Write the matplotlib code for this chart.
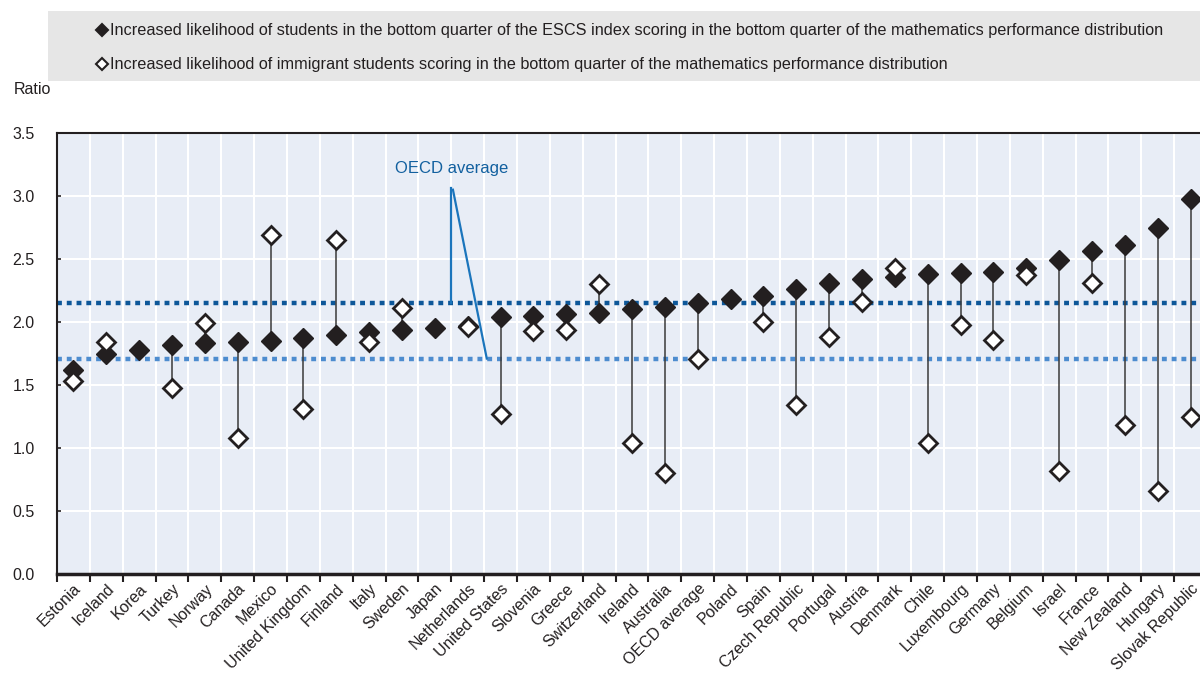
import numpy as np
import matplotlib
matplotlib.use("Agg")
import matplotlib.pyplot as plt
from matplotlib.lines import Line2D
from matplotlib.patches import Rectangle
from matplotlib.transforms import ScaledTranslation

plt.rcParams['font.family'] = ['Liberation Sans', 'DejaVu Sans']

countries = ['Estonia', 'Iceland', 'Korea', 'Turkey', 'Norway', 'Canada', 'Mexico',
             'United Kingdom', 'Finland', 'Italy', 'Sweden', 'Japan', 'Netherlands',
             'United States', 'Slovenia', 'Greece', 'Switzerland', 'Ireland', 'Australia',
             'OECD average', 'Poland', 'Spain', 'Czech Republic', 'Portugal', 'Austria',
             'Denmark', 'Chile', 'Luxembourg', 'Germany', 'Belgium', 'Israel', 'France',
             'New Zealand', 'Hungary', 'Slovak Republic']

escs = [1.62, 1.75, 1.78, 1.82, 1.83, 1.84, 1.85, 1.87, 1.90, 1.92, 1.94, 1.95, 1.97,
        2.04, 2.05, 2.06, 2.07, 2.10, 2.12, 2.15, 2.18, 2.21, 2.26, 2.31, 2.34, 2.36,
        2.38, 2.39, 2.40, 2.43, 2.49, 2.56, 2.61, 2.75, 2.98]

immig = [1.53, 1.84, np.nan, 1.48, 1.99, 1.08, 2.69, 1.31, 2.65, 1.84, 2.11, np.nan, 1.96,
         1.27, 1.93, 1.94, 2.30, 1.04, 0.80, 1.71, np.nan, 2.00, 1.34, 1.88, 2.16, 2.43,
         1.04, 1.98, 1.86, 2.37, 0.82, 2.31, 1.18, 0.66, 1.25]

legend_labels = [
    'Increased likelihood of students in the bottom quarter of the ESCS index scoring in the bottom quarter of the mathematics performance distribution',
    'Increased likelihood of immigrant students scoring in the bottom quarter of the mathematics performance distribution',
]

dark = '#231f20'
x = np.arange(len(countries))
escs = np.array(escs)
immig = np.array(immig)
oecd_i = countries.index('OECD average')

fig = plt.figure(figsize=(12, 6.74), dpi=100)
ax = fig.add_axes([57 / 1200, 1 - 574 / 674, 1150 / 1200, 441 / 674])
ax.set_facecolor('#e8edf6')

# grid
for b in np.arange(-0.5, len(countries) + 0.5, 1):
    ax.axvline(b, color='white', lw=1.5, zorder=1)
for yv in np.arange(0.5, 3.5, 0.5):
    ax.axhline(yv, color='white', lw=1.5, zorder=1)

# OECD averages
ax.axhline(escs[oecd_i], color='#0d5799', lw=3.2, ls=(0, (1.1, 1.1)), zorder=2)
ax.axhline(immig[oecd_i], color='#4d8ccf', lw=3.2, ls=(0, (1.1, 1.1)), zorder=2)

# connectors
for xi, a, b in zip(x, escs, immig):
    if not np.isnan(b):
        ax.plot([xi, xi], [a, b], color='#3a3a3a', lw=1.1, zorder=3)

ax.plot(x, escs, 'D', color=dark, ms=10.5, mec=dark, zorder=4)
ax.plot(x, immig, 'D', color='white', ms=9.5, mec=dark, mew=2, zorder=5)

# annotation
ax.text(11.5, 3.22, 'OECD average', color='#12609f', fontsize=12, ha='center', va='center')
ax.plot([11.48, 11.48], [3.06, escs[oecd_i]], color='#1b75bc', lw=1.6, zorder=3)
ax.plot([11.55, 12.58], [3.05, immig[oecd_i]], color='#1b75bc', lw=1.6, zorder=3)

ax.set_xlim(-0.5, len(countries) - 0.5)
ax.set_ylim(0, 3.5)
ax.set_yticks(np.arange(0, 3.51, 0.5))
ax.set_yticklabels([f'{v:.1f}' for v in np.arange(0, 3.51, 0.5)])
ax.set_xticks(np.arange(-0.5, len(countries) - 0.5, 1), minor=False)
ax.set_xticklabels([])
ax.set_xticks(x, minor=True)
ax.set_xticklabels(countries, minor=True, rotation=45, ha='right', va='top',
                   rotation_mode='anchor', fontsize=11.5, color=dark)
shift = ScaledTranslation(-5 / 100, 0, fig.dpi_scale_trans)
for lbl in ax.get_xticklabels(minor=True):
    lbl.set_transform(lbl.get_transform() + shift)
ax.tick_params(axis='x', which='major', length=6, width=1.5, color=dark, direction='out')
ax.tick_params(axis='x', which='minor', length=0, pad=5)
ax.tick_params(axis='y', length=3, width=1.2, direction='in', color=dark, pad=16,
               labelsize=11.5, labelcolor=dark)
for s in ['left', 'top', 'right']:
    ax.spines[s].set_color(dark)
    ax.spines[s].set_linewidth(1.5)
ax.spines['bottom'].set_color(dark)
ax.spines['bottom'].set_linewidth(2.5)

fig.text(14 / 1200, 1 - 90 / 674, 'Ratio', fontsize=11.5, color=dark, va='center')

# legend box
fig.add_artist(Rectangle((48 / 1200, 1 - 81 / 674), 1 - 48 / 1200, 70 / 674,
                         transform=fig.transFigure, facecolor='#e6e6e6', edgecolor='none'))
for yy, lab, fc in [(30, legend_labels[0], dark), (64, legend_labels[1], 'white')]:
    yf = 1 - yy / 674
    fig.add_artist(Line2D([102 / 1200], [yf], marker='D', ms=6, color=fc, mec=dark,
                          mew=1.5, transform=fig.transFigure))
    fig.text(110 / 1200, yf, lab, fontsize=11.7, color=dark, va='center')

fig.savefig('out.png', dpi=100)
